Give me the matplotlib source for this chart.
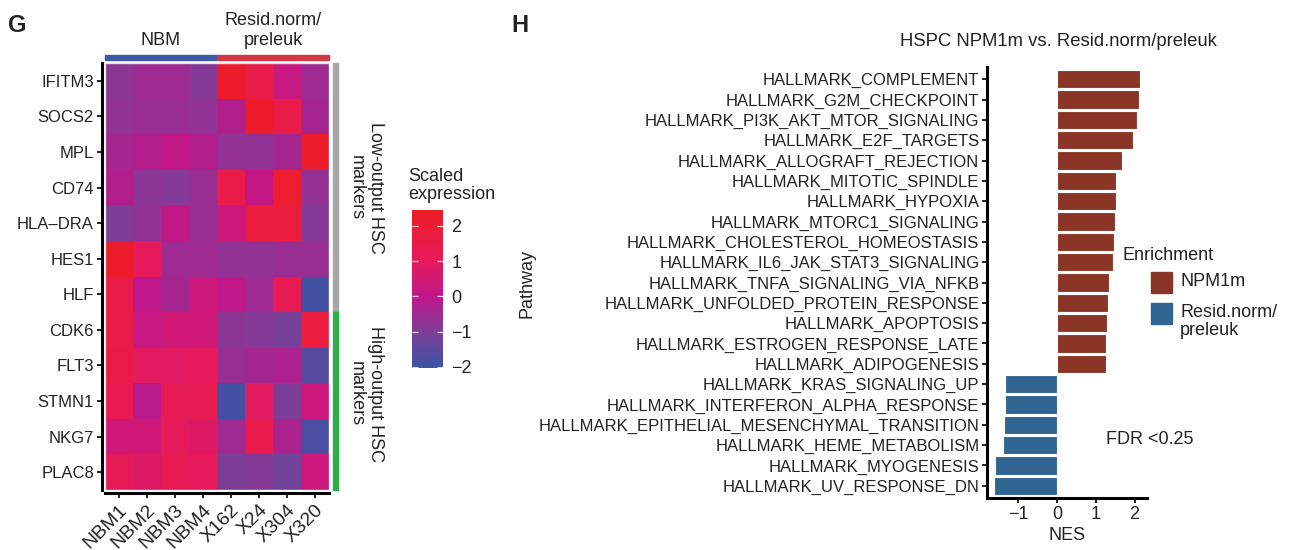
import numpy as np
import matplotlib
matplotlib.use("Agg")
import matplotlib.pyplot as plt
import matplotlib.transforms as mtransforms
from matplotlib.colors import LinearSegmentedColormap
from matplotlib.patches import Rectangle

plt.rcParams['font.family'] = ['Liberation Sans', 'DejaVu Sans']
plt.rcParams['text.color'] = "#222222"

# ---- panel G data ----
genes = ["IFITM3", "SOCS2", "MPL", "CD74", "HLA\u2013DRA", "HES1", "HLF",
         "CDK6", "FLT3", "STMN1", "NKG7", "PLAC8"]
samples = ["NBM1", "NBM2", "NBM3", "NBM4", "X162", "X24", "X304", "X320"]
expr = np.array([
    [-0.8, -0.5, -0.5, -0.9,  2.3,  1.5,  0.2, -0.5],
    [-0.7, -0.6, -0.6, -0.7, -0.2,  2.3,  1.5, -0.4],
    [-0.4, -0.2,  0.1, -0.2, -0.7, -0.7, -0.4,  2.3],
    [-0.2, -0.8, -0.9, -0.6,  1.5,  0.1,  2.2, -0.7],
    [-1.0, -0.7,  0.1, -0.6,  0.3,  1.8,  1.8, -0.9],
    [ 2.3,  1.0, -0.5, -0.5, -0.7, -0.7, -0.6, -0.6],
    [ 1.5,  0.0, -0.4,  0.3,  0.0, -0.5,  1.2, -1.9],
    [ 1.5,  0.2,  0.4,  0.4, -0.8, -0.9, -1.1,  1.8],
    [ 1.6,  0.9,  0.9,  1.0, -0.6, -0.4, -0.3, -1.6],
    [ 1.3, -0.1,  1.1,  1.2, -1.9,  0.9, -1.0,  0.3],
    [ 0.4,  0.4,  1.0,  0.8, -0.5,  1.4, -0.3, -1.8],
    [ 1.1,  0.8,  1.2,  1.0, -1.0, -0.9, -1.2,  0.3],
])
n_low = 7  # first 7 genes = low-output HSC markers
cbar_ticks = [-2, -1, 0, 1, 2]

# ---- panel H data ----
pathways = ["HALLMARK_COMPLEMENT", "HALLMARK_G2M_CHECKPOINT", "HALLMARK_PI3K_AKT_MTOR_SIGNALING",
            "HALLMARK_E2F_TARGETS", "HALLMARK_ALLOGRAFT_REJECTION", "HALLMARK_MITOTIC_SPINDLE",
            "HALLMARK_HYPOXIA", "HALLMARK_MTORC1_SIGNALING", "HALLMARK_CHOLESTEROL_HOMEOSTASIS",
            "HALLMARK_IL6_JAK_STAT3_SIGNALING", "HALLMARK_TNFA_SIGNALING_VIA_NFKB",
            "HALLMARK_UNFOLDED_PROTEIN_RESPONSE", "HALLMARK_APOPTOSIS",
            "HALLMARK_ESTROGEN_RESPONSE_LATE", "HALLMARK_ADIPOGENESIS", "HALLMARK_KRAS_SIGNALING_UP",
            "HALLMARK_INTERFERON_ALPHA_RESPONSE", "HALLMARK_EPITHELIAL_MESENCHYMAL_TRANSITION",
            "HALLMARK_HEME_METABOLISM", "HALLMARK_MYOGENESIS", "HALLMARK_UV_RESPONSE_DN"]
nes = [2.15, 2.12, 2.06, 1.95, 1.67, 1.53, 1.51, 1.49, 1.46, 1.44, 1.34, 1.31,
       1.29, 1.27, 1.26, -1.33, -1.33, -1.35, -1.39, -1.59, -1.61]
nes_ticks = [-1, 0, 1, 2]

W, H = 1289, 550
fig = plt.figure(figsize=(W / 100, H / 100), dpi=100)


def px_axes(x0, y0, x1, y1):
    return fig.add_axes([x0 / W, 1 - y1 / H, (x1 - x0) / W, (y1 - y0) / H])


FS = 12
AFS = 13  # annotation text in panel G
cmap = LinearSegmentedColormap.from_list(
    "scaled", [(0.0, "#3B54A4"), (0.22, "#7B3F98"), (0.45, "#C0178B"),
               (0.68, "#E61A5A"), (1.0, "#EE1C25")])
vmin, vmax = -2.03, 2.45

# ================= G: heatmap =================
ax = px_axes(105, 63, 329, 490)
# spine offsets first: set_position resets tick labels
for s in ["top", "right"]:
    ax.spines[s].set_visible(False)
for s in ["left", "bottom"]:
    ax.spines[s].set_position(("outward", 2.5))
    ax.spines[s].set_linewidth(2.2)
ax.pcolormesh(np.arange(len(samples) + 1) - 0.5, np.arange(len(genes) + 1) - 0.5, expr,
              cmap=cmap, vmin=vmin, vmax=vmax, edgecolors="none")
ax.set_xlim(-0.5, len(samples) - 0.5)
ax.set_ylim(len(genes) - 0.5, -0.5)
ax.set_xticks(range(len(samples)))
ax.set_xticklabels(samples, rotation=45, ha="right", va="top", rotation_mode="anchor", fontsize=14)
shift = mtransforms.ScaledTranslation(6 / 100, 3 / 100, fig.dpi_scale_trans)
for lab in ax.get_xticklabels():
    lab.set_transform(lab.get_transform() + shift)
ax.set_yticks(range(len(genes)))
ax.set_yticklabels(genes, fontsize=FS)
ax.tick_params(length=3.5, width=1.4, colors="#222222", pad=2)
ax.add_patch(Rectangle((-0.5, -0.5), len(samples), len(genes), fill=False,
                       ec="#E6E6E6", lw=1, zorder=3))

# top group bars
cw, rh = 224 / len(samples), 427 / len(genes)
ax.add_patch(Rectangle((-0.5, -0.5 - 8 / rh), 4, 5 / rh, color="#3B5BA9", clip_on=False))
ax.add_patch(Rectangle((3.5, -0.5 - 8 / rh), 4, 5 / rh, color="#D13A41", clip_on=False))
ax.text(1.5, -0.5 - 14 / rh, "NBM", ha="center", va="bottom", fontsize=AFS)
ax.text(5.5, -0.5 - 14 / rh, "Resid.norm/\npreleuk", ha="center", va="bottom",
        fontsize=AFS, linespacing=1.2)

# side marker bars
x0 = len(samples) - 0.5 + 4 / cw
ax.add_patch(Rectangle((x0, -0.5), 4.5 / cw, n_low, color="#A6A6A6", clip_on=False))
ax.add_patch(Rectangle((x0, n_low - 0.5), 4.5 / cw, len(genes) - n_low, color="#2DAE4A", clip_on=False))
ax.text(x0 + 33 / cw, (n_low - 1) / 2, "Low-output HSC\nmarkers", rotation=-90,
        ha="center", va="center", fontsize=AFS, linespacing=1.15)
ax.text(x0 + 33 / cw, n_low - 0.5 + (len(genes) - n_low) / 2 - 0.2, "High-output HSC\nmarkers",
        rotation=-90, ha="center", va="center", fontsize=AFS, linespacing=1.15)

# colorbar
cax = px_axes(412, 210, 443, 368)
grad = np.linspace(vmin, vmax, 256).reshape(-1, 1)
cax.pcolormesh([0, 1], np.linspace(vmin, vmax, 257), grad, cmap=cmap, vmin=vmin, vmax=vmax)
cax.set_xlim(0, 1)
cax.set_ylim(vmin, vmax)
cax.set_xticks([])
cax.yaxis.tick_right()
cax.set_yticks(cbar_ticks)
cax.set_yticklabels([str(t).replace("-", "\u2212") for t in cbar_ticks], fontsize=AFS)
cax.tick_params(length=0, pad=6, colors="#222222")
cax.hlines(cbar_ticks, 0, 0.18, colors="white", lw=0.9, alpha=0.8)
cax.hlines(cbar_ticks, 0.82, 1, colors="white", lw=0.9, alpha=0.8)
for s in cax.spines.values():
    s.set_visible(False)
fig.text(408 / W, 1 - 203 / H, "Scaled\nexpression", ha="left", va="bottom", fontsize=AFS,
         linespacing=1.1)

fig.text(8 / W, 1 - 25 / H, "G", fontsize=17, fontweight="bold", va="center", ha="left")
fig.text(511 / W, 1 - 25 / H, "H", fontsize=17, fontweight="bold", va="center", ha="left")

# ================= H: GSEA bars =================
bx = px_axes(987, 67, 1147, 498)
n = len(pathways)
ypos = np.arange(n)[::-1]
cols = ["#8B3527" if v > 0 else "#306591" for v in nes]
bx.barh(ypos, nes, height=0.9, color=cols, edgecolor="white", linewidth=0.8)
bx.set_xlim(-1.8, 2.32)
bx.set_ylim(-0.6, n - 0.4)
bx.set_yticks(ypos)
bx.set_yticklabels(pathways, fontsize=FS)
bx.set_xticks(nes_ticks)
bx.set_xticklabels([str(t).replace("-", "\u2212") for t in nes_ticks], fontsize=AFS)
for s in ["top", "right"]:
    bx.spines[s].set_visible(False)
for s in ["left", "bottom"]:
    bx.spines[s].set_linewidth(2.2)
bx.tick_params(length=3.5, width=1.4, colors="#222222", pad=2)
bx.set_xlabel("NES", fontsize=AFS, labelpad=3, color="#222222")
fig.text(527 / W, 1 - 284 / H, "Pathway", rotation=90, ha="center", va="center", fontsize=13)
fig.text(1058 / W, 1 - 42 / H, "HSPC NPM1m vs. Resid.norm/preleuk", ha="center",
         va="center", fontsize=13.3)
fig.text(1106 / W, 1 - 440 / H, "FDR <0.25", ha="left", va="center", fontsize=13)

# legend
fig.text(1122 / W, 1 - 255 / H, "Enrichment", ha="left", va="center", fontsize=13)
for i, (lab, c) in enumerate([("NPM1m", "#8B3527"), ("Resid.norm/\npreleuk", "#306591")]):
    top = 272 + i * 31
    fig.patches.append(Rectangle((1151 / W, 1 - (top + 21) / H), 21 / W, 21 / H,
                                 transform=fig.transFigure, color=c, figure=fig))
    fig.text(1180 / W, 1 - (top + 1) / H, lab, ha="left", va="top", fontsize=13,
             linespacing=1.05)

fig.savefig("out.png", dpi=100)
